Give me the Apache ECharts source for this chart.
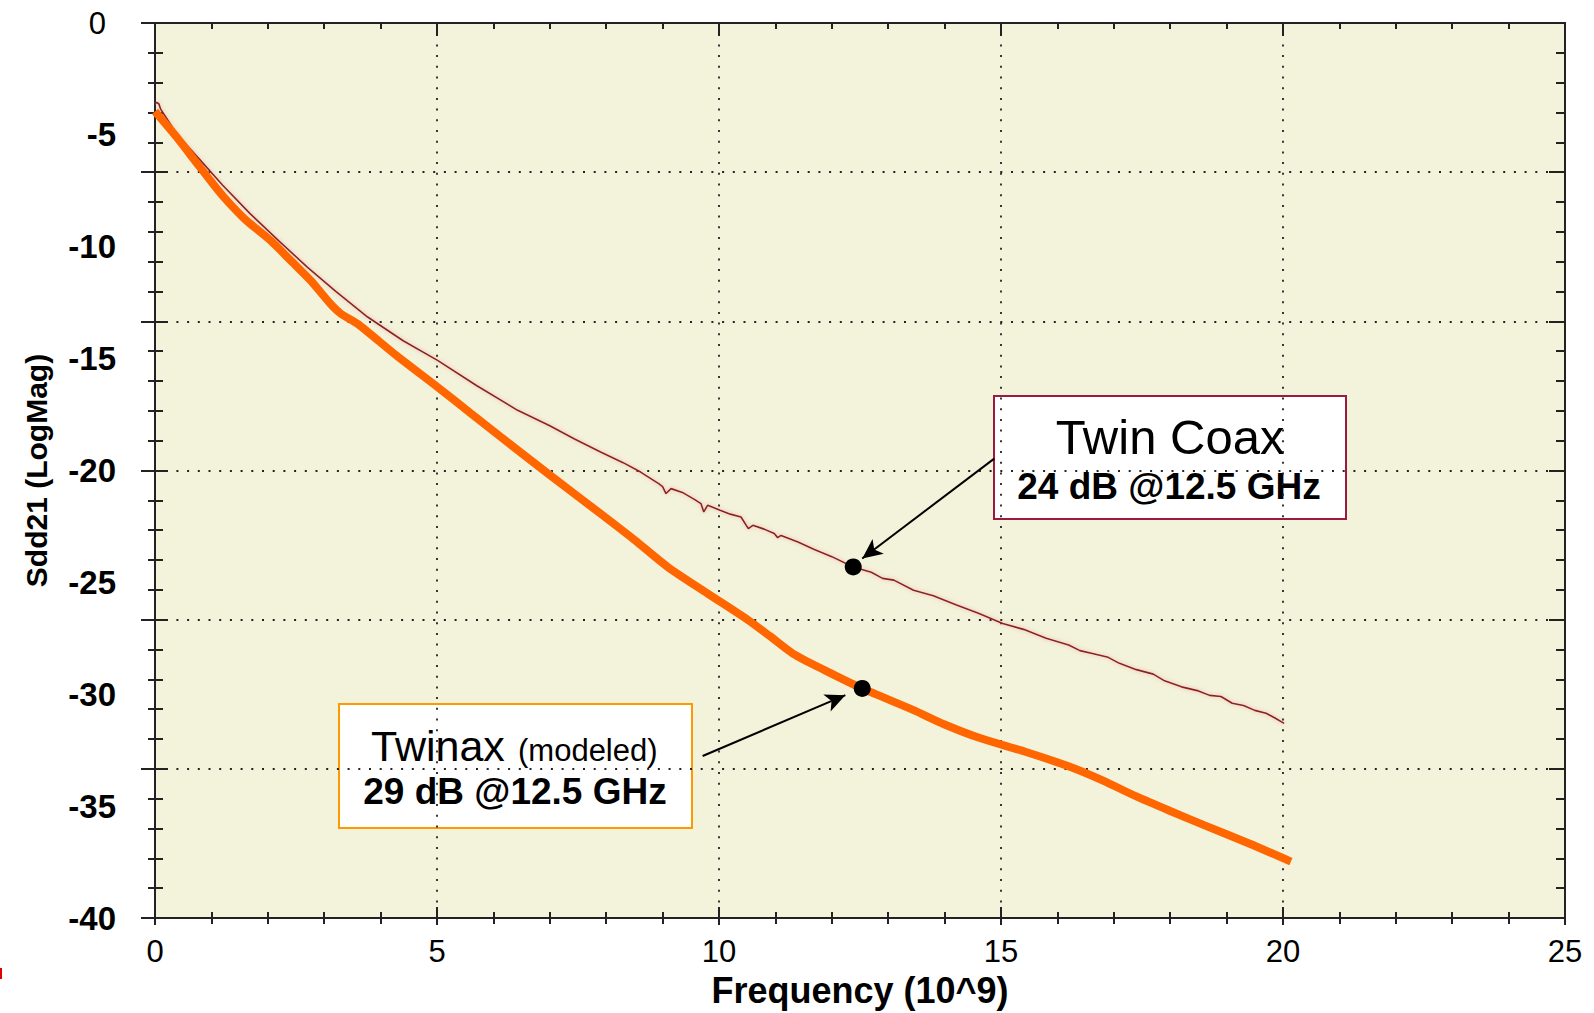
<!DOCTYPE html>
<html>
<head>
<meta charset="utf-8">
<script src="https://cdn.jsdelivr.net/npm/echarts@6/dist/echarts.min.js"></script>
<style>
  html, body { margin: 0; padding: 0; background: #fff; }
  #chart { width: 1594px; height: 1013px; }
</style>
</head>
<body>
<div id="chart"></div>
<script>
// measured Twin Coax trace: [GHz, dB]
var twinCoax = [
  [0.00, -3.62], [0.03, -3.55], [0.07, -3.62], [0.10, -3.85], [0.40, -5.0], [0.81, -6.15],
  [1.20, -7.25], [1.69, -8.53], [2.20, -9.75], [2.70, -10.91], [3.20, -11.98],
  [3.77, -13.14], [4.40, -14.2], [5.01, -15.08], [5.70, -16.2], [6.43, -17.31],
  [7.00, -18.0], [7.43, -18.58], [7.90, -19.17], [8.30, -19.65], [8.61, -20.07],
  [8.93, -20.59], [9.00, -20.72], [9.06, -21.03], [9.15, -20.81], [9.35, -20.98],
  [9.57, -21.3], [9.68, -21.48], [9.73, -21.85], [9.80, -21.55], [10.02, -21.78],
  [10.20, -21.95], [10.39, -22.08], [10.52, -22.6], [10.60, -22.45], [10.80, -22.62],
  [10.98, -22.82], [11.04, -23.0], [11.10, -22.9], [11.40, -23.2], [11.69, -23.53],
  [12.00, -23.85], [12.38, -24.31], [12.70, -24.55], [12.90, -24.82], [13.10, -24.9],
  [13.45, -25.35], [13.80, -25.6], [14.20, -26.0], [14.60, -26.38], [15.03, -26.84],
  [15.40, -27.1], [15.80, -27.5], [16.20, -27.8], [16.40, -28.05], [16.62, -28.18],
  [16.90, -28.35], [17.10, -28.62], [17.40, -28.9], [17.70, -29.1], [17.90, -29.4],
  [18.20, -29.67], [18.50, -29.85], [18.70, -30.05], [18.90, -30.1], [19.10, -30.4],
  [19.30, -30.5], [19.50, -30.72], [19.70, -30.85], [19.85, -31.05], [20.02, -31.30]
];

// modeled Twinax trace: [GHz, dB]
var twinax = [
  [0.00, -3.95], [0.40, -5.15], [0.75, -6.29], [1.00, -7.1], [1.22, -7.78],
  [1.60, -8.78], [2.05, -9.72], [2.40, -10.6], [2.76, -11.51], [3.11, -12.55],
  [3.30, -13.0], [3.59, -13.44], [4.30, -14.9], [5.01, -16.27], [5.60, -17.45],
  [6.13, -18.5], [7.00, -20.2], [7.90, -21.93], [8.50, -23.1], [9.09, -24.31],
  [9.80, -25.5], [10.52, -26.69], [10.90, -27.4], [11.31, -28.18], [11.87, -28.92],
  [12.54, -29.74], [13.45, -30.71], [14.00, -31.35], [14.64, -31.97], [15.43, -32.57],
  [16.22, -33.24], [16.80, -33.85], [17.41, -34.58], [18.00, -35.22], [18.60, -35.85],
  [19.40, -36.67], [20.14, -37.48]
];

// markers at 12.5 GHz
var markerPoints = [[12.38, -24.31], [12.54, -29.74]];
// arrows: [from, to]
var coaxArrow = [[14.88, -19.47], [12.54, -23.93]];
var twinaxArrow = [[9.71, -32.76], [12.24, -30.04]];

var xTicks = [0, 25, 5];      // min, max, interval
var yLabels = [-40, 0, 5];    // min, max, interval
var yGrid = [0, 6, 1];        // six grid divisions

var FONT = "'Liberation Sans', Arial, sans-serif";
var dotted = { color: '#222', width: 1.8, type: [2, 8.7] };

var myChart = echarts.init(document.getElementById('chart'), null, { renderer: 'svg' });

var option = {
  animation: false,
  backgroundColor: '#fff',
  textStyle: { fontFamily: FONT },
  grid: {
    left: 155, right: 29, top: 23, bottom: 94,
    show: true, backgroundColor: '#f3f3dc', borderWidth: 0
  },
  xAxis: [
    {
      type: 'value', position: 'bottom',
      min: xTicks[0], max: xTicks[1], interval: xTicks[2],
      name: 'Frequency (10^9)', nameLocation: 'middle', nameGap: 54,
      nameTextStyle: { fontSize: 36, fontWeight: 'bold', color: '#000', fontFamily: FONT },
      axisLine: { lineStyle: { color: '#222', width: 2 } },
      axisTick: { inside: false, length: 13, lineStyle: { color: '#222', width: 2 } },
      minorTick: { show: true, splitNumber: 5, length: 6, lineStyle: { color: '#222', width: 2 } },
      axisLabel: { fontSize: 31, color: '#000', margin: 18, fontFamily: FONT },
      splitLine: { show: true, showMinLine: false, showMaxLine: false, lineStyle: dotted }
    },
    {
      type: 'value', position: 'bottom',
      min: xTicks[0], max: xTicks[1], interval: xTicks[2],
      axisLine: { show: false },
      axisTick: { inside: true, length: 11, lineStyle: { color: '#222', width: 2 } },
      minorTick: { show: true, splitNumber: 5, length: 6, lineStyle: { color: '#222', width: 2 } },
      axisLabel: { show: false }, splitLine: { show: false }
    },
    {
      type: 'value', position: 'top',
      min: xTicks[0], max: xTicks[1], interval: xTicks[2],
      axisLine: { lineStyle: { color: '#222', width: 2 } },
      axisTick: { inside: true, length: 7, lineStyle: { color: '#222', width: 2 } },
      minorTick: { show: true, splitNumber: 5, length: 6, lineStyle: { color: '#222', width: 2 } },
      axisLabel: { show: false }, splitLine: { show: false }
    }
  ],
  yAxis: [
    {
      type: 'value', position: 'left',
      min: yLabels[0], max: yLabels[1], interval: yLabels[2],
      name: 'Sdd21 (LogMag)', nameLocation: 'middle', nameGap: 104, nameRotate: 90,
      nameTextStyle: { fontSize: 30, fontWeight: 'bold', color: '#000', fontFamily: FONT },
      axisLine: { show: false }, axisTick: { show: false }, splitLine: { show: false },
      axisLabel: {
        margin: 39, color: '#000',
        formatter: function (v) { return v === 0 ? '{r|0}' : '{b|' + v + '}'; },
        rich: {
          r: { fontSize: 31, fontWeight: 'normal', color: '#000', fontFamily: FONT, padding: [0, 10, 0, 0] },
          b: { fontSize: 33, fontWeight: 'bold', color: '#000', fontFamily: FONT }
        }
      }
    },
    {
      type: 'value', position: 'left',
      min: yGrid[0], max: yGrid[1], interval: yGrid[2],
      axisLine: { show: true, lineStyle: { color: '#222', width: 2 } },
      axisTick: { inside: false, length: 14, lineStyle: { color: '#222', width: 2 } },
      minorTick: { show: true, splitNumber: 5, length: 7, lineStyle: { color: '#222', width: 2 } },
      axisLabel: { show: false },
      splitLine: { show: true, showMinLine: false, showMaxLine: false, lineStyle: dotted }
    },
    {
      type: 'value', position: 'left',
      min: yGrid[0], max: yGrid[1], interval: yGrid[2],
      axisLine: { show: false },
      axisTick: { inside: true, length: 13, lineStyle: { color: '#222', width: 2 } },
      minorTick: { show: true, splitNumber: 5, length: 8, lineStyle: { color: '#222', width: 2 } },
      axisLabel: { show: false }, splitLine: { show: false }
    },
    {
      type: 'value', position: 'right',
      min: yGrid[0], max: yGrid[1], interval: yGrid[2],
      axisLine: { show: true, lineStyle: { color: '#222', width: 2 } },
      axisTick: { inside: true, length: 16, lineStyle: { color: '#222', width: 2 } },
      minorTick: { show: true, splitNumber: 5, length: 9, lineStyle: { color: '#222', width: 2 } },
      axisLabel: { show: false }, splitLine: { show: false }
    }
  ],
  series: [
    {
      name: 'Twin Coax', type: 'line', data: twinCoax,
      xAxisIndex: 0, yAxisIndex: 0,
      showSymbol: false, smooth: false,
      lineStyle: { color: '#8a2424', width: 1.6, shadowColor: 'rgba(235,120,120,0.6)', shadowBlur: 4 },
      z: 3
    },
    {
      name: 'Twinax', type: 'line', data: twinax,
      xAxisIndex: 0, yAxisIndex: 0,
      showSymbol: false, smooth: 0.25,
      lineStyle: { color: '#ff6600', width: 8, cap: 'butt' },
      z: 4
    },
    {
      name: 'markers', type: 'scatter', data: markerPoints,
      xAxisIndex: 0, yAxisIndex: 0,
      symbol: 'circle', symbolSize: 17,
      itemStyle: { color: '#000', opacity: 1 },
      z: 6,
      markLine: {
        silent: true, animation: false,
        symbol: ['none', 'arrow'], symbolSize: [14, 20],
        label: { show: false },
        lineStyle: { color: '#000', width: 2, type: 'solid', opacity: 1 },
        data: [
          [{ coord: coaxArrow[0] }, { coord: coaxArrow[1] }],
          [{ coord: twinaxArrow[0] }, { coord: twinaxArrow[1] }]
        ]
      }
    }
  ],
  graphic: [
    {
      type: 'group', left: 993, top: 395, z: 10,
      children: [
        { type: 'rect', shape: { x: 0, y: 0, width: 352, height: 123 },
          style: { fill: '#fff', stroke: '#9b1b40', lineWidth: 2 } },
        { type: 'text', x: 176, y: 41,
          style: { text: 'Twin Coax', font: 'normal 49px ' + FONT, fill: '#000',
                   align: 'center', verticalAlign: 'middle' } },
        { type: 'text', x: 175, y: 90,
          style: { text: '24 dB @12.5 GHz', font: 'bold 37px ' + FONT, fill: '#000',
                   align: 'center', verticalAlign: 'middle' } }
      ]
    },
    {
      type: 'group', left: 338, top: 703, z: 10,
      children: [
        { type: 'rect', shape: { x: 0, y: 0, width: 353, height: 124 },
          style: { fill: '#fff', stroke: '#ff9900', lineWidth: 2 } },
        { type: 'text', x: 32, y: 42,
          style: { text: 'Twinax', font: 'normal 43px ' + FONT, fill: '#000',
                   align: 'left', verticalAlign: 'middle' } },
        { type: 'text', x: 179, y: 46,
          style: { text: '(modeled)', font: 'normal 31px ' + FONT, fill: '#000',
                   align: 'left', verticalAlign: 'middle' } },
        { type: 'text', x: 176, y: 87,
          style: { text: '29 dB @12.5 GHz', font: 'bold 37px ' + FONT, fill: '#000',
                   align: 'center', verticalAlign: 'middle' } }
      ]
    },
    {
      type: 'rect', left: 0, top: 968, z: 10,
      shape: { width: 2, height: 11 }, style: { fill: '#e00000' }
    }
  ]
};

myChart.setOption(option);
</script>
</body>
</html>
